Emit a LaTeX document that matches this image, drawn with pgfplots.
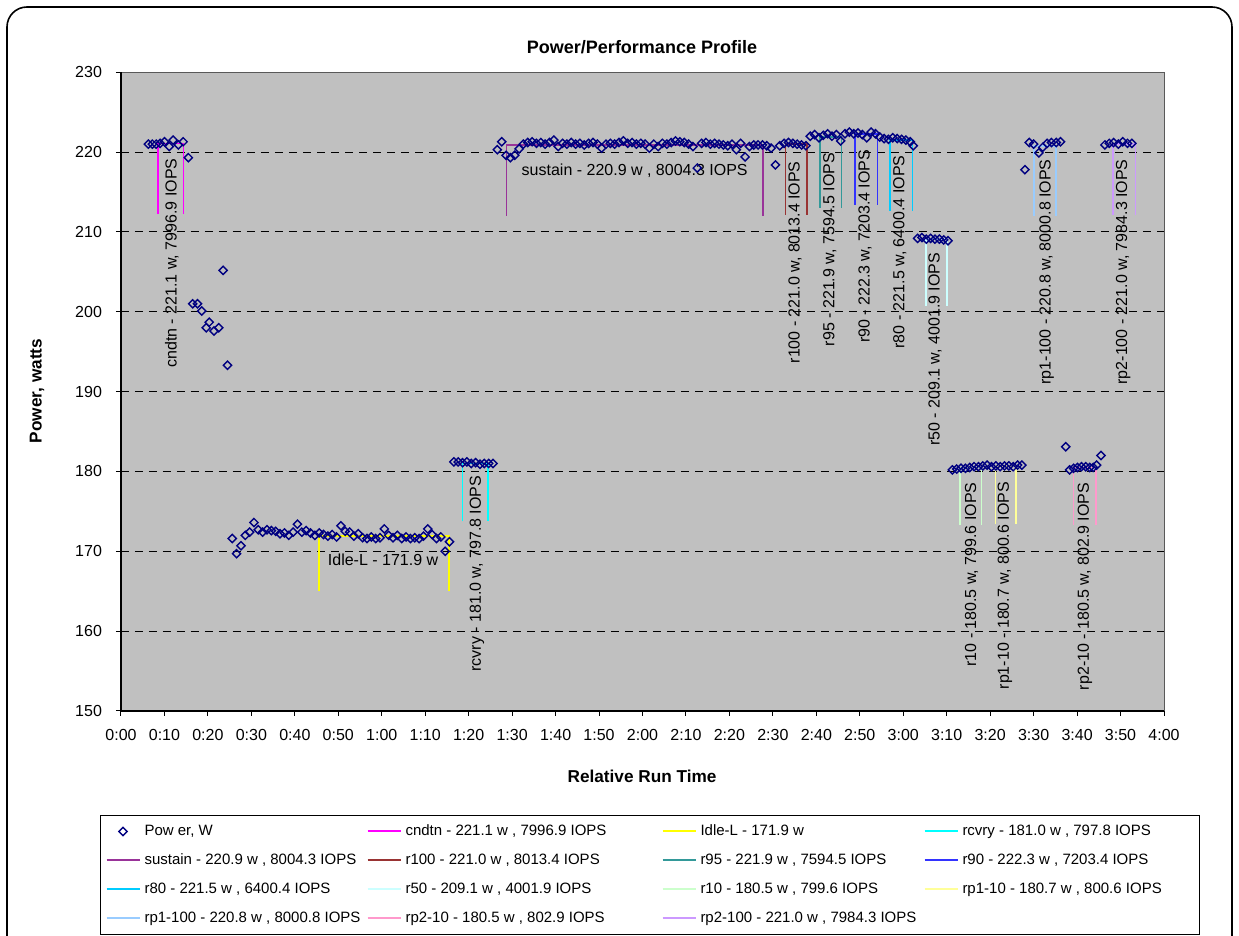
\documentclass[border=0pt]{standalone}
\usepackage{fontspec}
\setmainfont{Liberation Sans}
\usepackage{pgfplots}
\pgfplotsset{compat=1.18}
\definecolor{plotgray}{HTML}{C0C0C0}
\definecolor{navyd}{HTML}{000080}
\definecolor{cMag}{HTML}{FF00FF}
\definecolor{cYel}{HTML}{FFFF00}
\definecolor{cCya}{HTML}{00FFFF}
\definecolor{cSus}{HTML}{993399}
\definecolor{cRa}{HTML}{993333}
\definecolor{cRb}{HTML}{339999}
\definecolor{cRc}{HTML}{3333FF}
\definecolor{cRd}{HTML}{00CCFF}
\definecolor{cRe}{HTML}{CCFFFF}
\definecolor{cRf}{HTML}{CCFFCC}
\definecolor{cRg}{HTML}{FFFF99}
\definecolor{cRh}{HTML}{99CCFF}
\definecolor{cRi}{HTML}{FF99CC}
\definecolor{cRj}{HTML}{CC99FF}
\newcommand\lab{\fontsize{8}{9.6}\selectfont}
\pgfplotsset{
  brk/.style={draw=#1, color=#1, line width=0.8pt, mark=none,
    legend image code/.code={\draw[##1, line width=1pt] (0pt,0pt) -- (16.5pt,0pt);}},
  powerlegend/.style={legend image code/.code={\path (0pt,0pt) (16.5pt,0pt); \draw[##1] plot coordinates {(8.25pt,0pt)};}},
}
\begin{document}
\begin{tikzpicture}
\useasboundingbox (0,0) rectangle (619.5pt,468pt);
\fill[white] (0,0) rectangle (619.5pt,468pt);
\draw[line width=0.8pt, rounded corners=10pt] (3.5pt,464.5pt) rectangle (616pt,-20pt);
\node[font=\fontsize{9}{11}\selectfont\bfseries] at (321pt,444.5pt) {Power/Performance Profile};
\node[font=\fontsize{8.6}{10}\selectfont\bfseries, rotate=90] at (18.5pt,272.5pt) {Power, watts};
\node[font=\fontsize{8.6}{10}\selectfont\bfseries] at (321pt,80pt) {Relative Run Time};
\begin{axis}[
  at={(60.5pt,112.5pt)}, anchor=south west,
  scale only axis, width=521.5pt, height=319.35pt,
  xmin=0, xmax=240, ymin=150, ymax=230,
  xtick={0,10,...,240},
  xticklabels={0:00,0:10,0:20,0:30,0:40,0:50,1:00,1:10,1:20,1:30,1:40,1:50,2:00,2:10,2:20,2:30,2:40,2:50,3:00,3:10,3:20,3:30,3:40,3:50,4:00},
  ytick={150,160,...,230},
  tick align=outside, tick pos=left, major tick length=2.5pt,
  tick style={black, line width=0.5pt},
  ticklabel style={font=\lab},
  xticklabel style={yshift=-3pt},
  yticklabel style={xshift=-3.5pt},
  /pgf/number format/assume math mode=true,
  axis background/.style={fill=plotgray},
  axis line style={draw=none},
  ymajorgrids, major grid style={black, line width=0.5pt, dash pattern=on 4pt off 3pt},
  clip=false,
  legend columns=4,
  legend cell align=left,
  legend style={at={(-0.02013,-0.16283)}, anchor=north west, draw=black, line width=0.5pt, fill=white,
    font=\fontsize{7.5}{9}\selectfont, inner xsep=2.5pt, inner ysep=4.5pt,
    nodes={inner xsep=0pt, inner ysep=0pt, text height=5.5pt, text depth=1.5pt},
    column sep=0pt, row sep=7.5pt,
    /tikz/every odd column/.append style={column sep=2pt}},
  after end axis/.code={
    \draw[gray!70!black, line width=0.5pt] (rel axis cs:0,1) -- (rel axis cs:1,1) -- (rel axis cs:1,0);
    \draw[black, line width=0.6pt] (rel axis cs:0,1) -- (rel axis cs:0,0) -- (rel axis cs:1,0);
  },
]
\addplot[only marks, mark=square, mark size=1.45pt, mark options={rotate=45, draw=navyd, fill=none, line width=0.7pt}, powerlegend] coordinates {
(6.3,221.0)(7.2,221.0)(8.1,221.0)(9.0,221.1)(10.0,221.3)(11.1,220.7)(12.0,221.5)(13.2,220.9)(14.3,221.3)(15.5,219.3)
(16.5,201.0)(17.6,201.0)(18.6,200.1)(19.6,198.0)(20.3,198.7)(21.4,197.6)(22.5,198.0)(23.5,205.2)(24.5,193.3)
(25.6,171.6)(26.6,169.7)(27.6,170.7)(28.6,172.0)(29.6,172.4)(30.6,173.6)(31.6,172.7)(32.6,172.4)(33.6,172.7)(34.6,172.6)
(35.6,172.5)(36.6,172.2)(37.6,172.3)(38.6,172.0)(39.6,172.4)(40.6,173.4)(41.6,172.4)(42.6,172.6)(43.6,172.3)(44.6,172.0)
(45.6,172.3)(46.6,172.1)(47.6,171.9)(48.6,172.1)(49.6,171.8)(50.6,173.2)(51.6,172.5)(52.6,172.4)(53.6,171.9)(54.6,172.2)
(55.6,171.7)(56.6,171.6)(57.6,171.8)(58.6,171.6)(59.6,171.7)(60.6,172.8)(61.6,172.0)(62.6,171.7)(63.6,172.0)(64.6,171.6)
(65.6,171.8)(66.6,171.6)(67.6,171.7)(68.6,171.6)(69.6,171.9)(70.6,172.8)(71.6,172.1)(72.6,171.6)(73.6,171.8)(74.6,170.0)(75.6,171.2)
(76.6,181.2)(77.6,181.2)(78.6,181.1)(79.6,181.2)(80.6,181.0)(81.6,181.1)(82.6,180.9)(83.6,181.0)(84.6,181.0)(85.6,181.0)
(86.6,220.3)(87.6,221.3)(88.6,219.6)(89.6,219.3)(90.6,219.6)(91.6,220.4)(92.6,221.0)(93.6,221.2)(94.6,221.3)(95.6,221.1)
(96.6,221.2)(97.6,221.0)(98.6,221.2)(99.6,221.5)(100.6,220.7)(101.6,221.1)(102.6,221.0)(103.6,221.2)(104.6,221.0)(105.6,221.1)
(106.6,220.9)(107.6,221.1)(108.6,221.2)(109.6,221.0)(110.6,220.5)(111.6,221.0)(112.6,221.1)(113.6,221.0)(114.6,221.2)(115.6,221.4)
(116.6,221.1)(117.6,221.2)(118.6,221.0)(119.6,221.1)(120.6,221.0)(121.6,220.5)(122.6,221.0)(123.6,220.7)(124.6,221.1)(125.6,221.0)
(126.6,221.2)(127.6,221.4)(128.6,221.3)(129.6,221.2)(130.6,221.0)(131.6,220.7)(132.6,218.0)(133.6,221.1)(134.6,221.2)(135.6,221.0)
(136.6,221.1)(137.6,221.0)(138.6,220.9)(139.6,220.8)(140.6,221.0)(141.6,220.3)(142.6,221.1)(143.6,219.4)(144.6,220.7)(145.6,220.9)
(146.6,220.9)(147.6,220.9)(148.6,220.8)(149.6,220.5)(150.6,218.4)(151.6,220.8)(152.6,221.1)(153.6,221.2)(154.6,221.1)(155.6,221.0)
(156.6,220.9)(157.6,220.8)(158.6,222.0)(159.6,222.2)(160.6,221.8)(161.6,222.1)(162.6,222.3)(163.6,222.0)(164.6,222.2)(165.6,221.4)
(166.6,222.3)(167.6,222.5)(168.6,222.3)(169.6,222.4)(170.6,222.2)(171.6,221.8)(172.6,222.5)(173.6,222.3)(174.6,221.9)(175.6,221.7)
(176.6,221.6)(177.6,221.8)(178.6,221.7)(179.6,221.6)(180.6,221.5)(181.6,221.3)(182.3,220.8)
(183.3,209.2)(184.3,209.3)(185.3,209.1)(186.3,209.2)(187.3,209.1)(188.3,209.1)(189.3,209.0)(190.3,208.9)
(191.3,180.2)(192.3,180.3)(193.3,180.4)(194.3,180.4)(195.3,180.5)(196.3,180.6)(197.3,180.6)(198.3,180.7)(199.3,180.8)
(200.3,180.6)(201.3,180.7)(202.3,180.6)(203.3,180.7)(204.3,180.7)(205.3,180.6)(206.3,180.8)(207.3,180.8)
(208.0,217.8)(209.0,221.2)(210.0,221.0)(211.2,219.9)(212.1,220.6)(213.1,221.1)(214.1,221.2)(215.2,221.2)(216.2,221.3)
(217.4,183.1)(218.3,180.2)(219.2,180.4)(220.1,180.5)(221.0,180.6)(222.0,180.6)(222.9,180.5)(223.7,180.5)(224.5,180.8)(225.5,182.0)
(226.4,220.9)(227.4,221.1)(228.4,221.2)(229.5,221.0)(230.5,221.3)(231.6,221.1)(232.6,221.1)
};
\addlegendentry{\makebox[111pt][l]{Pow er, W}}
\addplot[brk=cMag] coordinates {(8.5,212.26)(8.5,221.1)(14.4,221.1)(14.4,212.26)};
\addlegendentry{\makebox[128pt][l]{cndtn - 221.1 w , 7996.9 IOPS}}
\addplot[brk=cYel] coordinates {(45.6,165.02)(45.6,171.9)(75.5,171.9)(75.5,165.02)};
\addlegendentry{\makebox[111.5pt][l]{Idle-L - 171.9 w}}
\addplot[brk=cCya] coordinates {(78.6,173.76)(78.6,181.0)(84.5,181.0)(84.5,173.76)};
\addlegendentry{\makebox[116pt][l]{rcvry - 181.0 w , 797.8 IOPS}}
\addplot[brk=cSus] coordinates {(88.7,212.06)(88.7,220.9)(147.7,220.9)(147.7,212.06)};
\addlegendentry{\makebox[111pt][l]{sustain - 220.9 w , 8004.3 IOPS}}
\addplot[brk=cRa] coordinates {(152.9,212.16)(152.9,221.0)(157.8,221.0)(157.8,212.16)};
\addlegendentry{\makebox[128pt][l]{r100 - 221.0 w , 8013.4 IOPS}}
\addplot[brk=cRb] coordinates {(160.8,213.02)(160.8,221.9)(165.8,221.9)(165.8,213.02)};
\addlegendentry{\makebox[111.5pt][l]{r95 - 221.9 w , 7594.5 IOPS}}
\addplot[brk=cRc] coordinates {(168.9,213.41)(168.9,222.3)(174.1,222.3)(174.1,213.41)};
\addlegendentry{\makebox[116pt][l]{r90 - 222.3 w , 7203.4 IOPS}}
\addplot[brk=cRd] coordinates {(176.9,212.64)(176.9,221.5)(182.1,221.5)(182.1,212.64)};
\addlegendentry{\makebox[111pt][l]{r80 - 221.5 w , 6400.4 IOPS}}
\addplot[brk=cRe] coordinates {(185.2,200.74)(185.2,209.1)(190.1,209.1)(190.1,200.74)};
\addlegendentry{\makebox[128pt][l]{r50 - 209.1 w , 4001.9 IOPS}}
\addplot[brk=cRf] coordinates {(193.1,173.28)(193.1,180.5)(198.0,180.5)(198.0,173.28)};
\addlegendentry{\makebox[111.5pt][l]{r10 - 180.5 w , 799.6 IOPS}}
\addplot[brk=cRg] coordinates {(201.2,173.47)(201.2,180.7)(206.0,180.7)(206.0,173.47)};
\addlegendentry{\makebox[116pt][l]{rp1-10 - 180.7 w , 800.6 IOPS}}
\addplot[brk=cRh] coordinates {(210.1,211.97)(210.1,220.8)(215.1,220.8)(215.1,211.97)};
\addlegendentry{\makebox[111pt][l]{rp1-100 - 220.8 w , 8000.8 IOPS}}
\addplot[brk=cRi] coordinates {(219.2,173.28)(219.2,180.5)(224.4,180.5)(224.4,173.28)};
\addlegendentry{\makebox[128pt][l]{rp2-10 - 180.5 w , 802.9 IOPS}}
\addplot[brk=cRj] coordinates {(228.2,212.16)(228.2,221.0)(233.4,221.0)(233.4,212.16)};
\addlegendentry{\makebox[111.5pt][l]{rp2-100 - 221.0 w , 7984.3 IOPS}}

\node[rotate=90, font=\lab] at (axis cs:11.7,206.1) {cndtn - 221.1 w, 7996.9 IOPS};
\node[font=\lab] at (axis cs:60.3,169.0) {Idle-L - 171.9 w};
\node[rotate=90, font=\lab] at (axis cs:81.9,167.2) {rcvry - 181.0 w, 797.8 IOPS};
\node[font=\lab] at (axis cs:118.2,217.7) {sustain - 220.9 w , 8004.3 IOPS};
\node[rotate=90, font=\lab] at (axis cs:155.1,206.2) {r100 - 221.0 w, 8013.4 IOPS};
\node[rotate=90, font=\lab] at (axis cs:163.1,207.8) {r95 - 221.9 w, 7594.5 IOPS};
\node[rotate=90, font=\lab] at (axis cs:171.2,208.2) {r90 - 222.3 w, 7203.4 IOPS};
\node[rotate=90, font=\lab] at (axis cs:179.2,207.5) {r80 - 221.5 w, 6400.4 IOPS};
\node[rotate=90, font=\lab] at (axis cs:187.3,195.3) {r50 - 209.1 w, 4001.9 IOPS};
\node[rotate=90, font=\lab] at (axis cs:195.7,167.1) {r10 - 180.5 w, 799.6 IOPS};
\node[rotate=90, font=\lab] at (axis cs:203.4,165.7) {rp1-10 - 180.7 w, 800.6 IOPS};
\node[rotate=90, font=\lab] at (axis cs:213.0,205.0) {rp1-100 - 220.8 w, 8000.8 IOPS};
\node[rotate=90, font=\lab] at (axis cs:221.8,165.6) {rp2-10 - 180.5 w, 802.9 IOPS};
\node[rotate=90, font=\lab] at (axis cs:230.6,205.0) {rp2-100 - 221.0 w, 7984.3 IOPS};
\end{axis}
\end{tikzpicture}
\end{document}
